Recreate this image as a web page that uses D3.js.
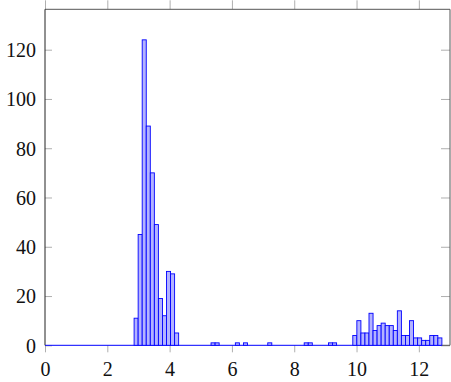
<!DOCTYPE html>
<html>
<head>
<meta charset="utf-8">
<script src="https://cdn.jsdelivr.net/npm/d3@7"></script>
<style>
  body { margin: 0; background: #fff; }
  svg text { font-family: "Liberation Serif", "DejaVu Serif", serif; }
</style>
</head>
<body>
<svg id="chart" width="451" height="382"></svg>
<script>
// histogram bins: width 0.13, starting at 0
var binWidth = 0.13;
var counts = [
  0, 0, 0, 0, 0, 0, 0, 0, 0, 0,
  0, 0, 0, 0, 0, 0, 0, 0, 0, 0,
  0, 0, 11, 45, 124, 89, 70, 49, 19, 12,
  30, 29, 5, 0, 0, 0, 0, 0, 0, 0,
  0, 1, 1, 0, 0, 0, 0, 1, 0, 1,
  0, 0, 0, 0, 0, 1, 0, 0, 0, 0,
  0, 0, 0, 0, 1, 1, 0, 0, 0, 0,
  1, 1, 0, 0, 0, 0, 4, 10, 5, 5,
  13, 6, 8, 9, 8, 8, 6, 14, 4, 4,
  10, 3, 3, 2, 2, 4, 4, 3
];
var xTicks = [0, 2, 4, 6, 8, 10, 12];
var yTicks = [0, 20, 40, 60, 80, 100, 120];
var xDomain = [0, 13];
var yDomain = [0, 136.4];

var plotLeft = 45, plotRight = 450, plotTop = 9.3, plotBottom = 345.3;

var svg = d3.select('#chart');
var x = d3.scaleLinear().domain(xDomain).range([plotLeft, plotRight]);
var y = d3.scaleLinear().domain(yDomain).range([plotBottom, plotTop]);

var bins = counts.map(function(c, i) {
    return { x0: i * binWidth, x1: (i + 1) * binWidth, n: c };
});

// ticks (x outside, y inside, mirrored)
var tickColor = '#9a9a9a';
var gx = svg.append('g').attr('transform', 'translate(0,' + plotBottom + ')')
    .call(d3.axisBottom(x).tickValues(xTicks).tickSize(7).tickPadding(9).tickFormat(d3.format('d')));
var gxt = svg.append('g').attr('transform', 'translate(0,' + plotTop + ')')
    .call(d3.axisTop(x).tickValues(xTicks).tickSize(9).tickFormat(''));
var gy = svg.append('g').attr('transform', 'translate(' + plotLeft + ',0)')
    .call(d3.axisLeft(y).tickValues(yTicks).tickSize(-7).tickPadding(9).tickFormat(d3.format('d')));
var gyr = svg.append('g').attr('transform', 'translate(' + plotRight + ',0)')
    .call(d3.axisRight(y).tickValues(yTicks).tickSize(-9).tickFormat(''));

[gx, gxt, gy, gyr].forEach(function(g) {
    g.select('.domain').remove();
    g.selectAll('.tick line').attr('stroke', tickColor).attr('stroke-width', 0.8);
    g.selectAll('text').attr('font-size', 20).attr('fill', '#111');
});
gy.selectAll('text').attr('dy', '0.34em');
gx.selectAll('text').attr('dy', '0.72em');

// bars
svg.append('line')
    .attr('x1', x(0)).attr('x2', x(counts.length * binWidth))
    .attr('y1', y(0)).attr('y2', y(0))
    .attr('stroke', '#0000ff').attr('stroke-width', 1);

svg.append('g').selectAll('rect')
    .data(bins.filter(function(b) { return b.n > 0; }))
    .enter().append('rect')
    .attr('x', function(d) { return x(d.x0); })
    .attr('width', function(d) { return x(d.x1) - x(d.x0); })
    .attr('y', function(d) { return y(d.n); })
    .attr('height', function(d) { return y(0) - y(d.n); })
    .attr('fill', '#b3b3ff')
    .attr('stroke', '#0000ff')
    .attr('stroke-width', 0.9);

// frame
svg.append('path')
    .attr('d', 'M' + plotLeft + ',' + plotTop + 'H' + plotRight + 'V' + plotBottom)
    .attr('fill', 'none').attr('stroke', '#555').attr('stroke-width', 1);
svg.append('path')
    .attr('d', 'M' + x(counts.length * binWidth) + ',' + plotBottom + 'H' + plotRight)
    .attr('fill', 'none').attr('stroke', '#555').attr('stroke-width', 1);
svg.append('line')
    .attr('x1', plotLeft).attr('x2', plotLeft).attr('y1', plotTop).attr('y2', plotBottom)
    .attr('stroke', '#222').attr('stroke-width', 1);
</script>
</body>
</html>
